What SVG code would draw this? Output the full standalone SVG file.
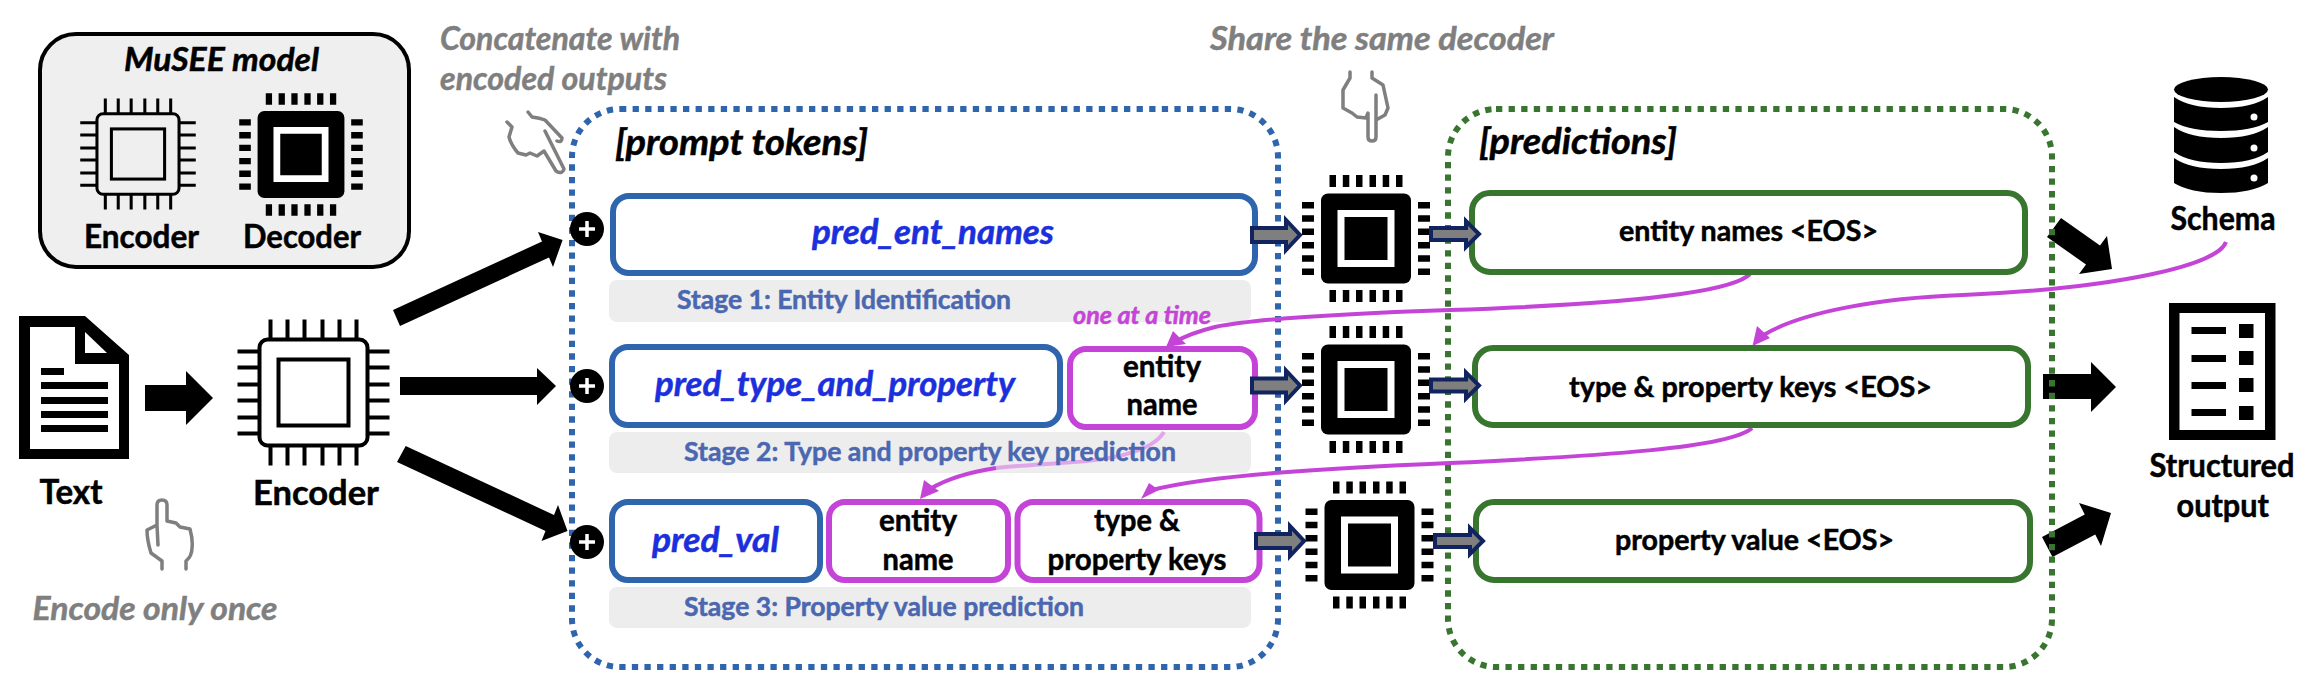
<svg xmlns="http://www.w3.org/2000/svg" xmlns:xlink="http://www.w3.org/1999/xlink" width="2308" height="696" viewBox="0 0 2308 696">
<style>
text{font-family:"Lato","Liberation Sans",sans-serif;font-weight:700;fill:#000;stroke:#000;stroke-width:.5}
.it{font-style:italic}
.note{font-style:italic;font-size:33px;fill:#7f7f7f;stroke:#7f7f7f}
.lbl{font-size:34px}
.cell{font-size:31px}
.out{font-size:28px}
.pred{font-style:italic;font-size:34px;fill:#1b2fdc;stroke:#1b2fdc}
.stage{font-size:27px;fill:#4a67b0;stroke:#4a67b0}
.time{fill:#c544d8;stroke:#c544d8;font-size:24px}
.blue{fill:#fff;stroke:#2e65ad;stroke-width:6}
.mag{fill:#fff;stroke:#c544d8;stroke-width:6}
.grn{fill:#fff;stroke:#38752f;stroke-width:6}
.band{fill:#ededed}
.dotb{fill:none;stroke:#2e65ad;stroke-width:6;stroke-dasharray:6.3 6.3}
.dotg{fill:none;stroke:#38752f;stroke-width:6;stroke-dasharray:6.3 6.3}
.curve{fill:none;stroke:#c544d8;stroke-width:4}
.light{fill:none;stroke:#e0a6e9;stroke-width:4}
.head{fill:#c544d8}
.hand{fill:none;stroke:#7f7f7f;stroke-width:3.5;stroke-linejoin:round;stroke-linecap:round}
.ga{fill:#7f7f7f;stroke:#12245f;stroke-width:4}
</style>
<defs>
<g id="dec">
<rect x="-45" y="-45" width="90" height="90" rx="7"/>
<rect x="-28.500" y="-28.500" width="57" height="57" fill="#fff"/>
<rect x="-21.500" y="-21.500" width="43" height="43"/>
<path d="M-36.500-63.500h6.500v12h-6.500zM-23.200-63.500h6.500v12h-6.500zM-10-63.500h6.500v12h-6.500zM3.500-63.500h6.500v12h-6.500zM16.700-63.500h6.500v12h-6.500zM30-63.500h6.500v12h-6.500zM-36.500 51.500h6.500v12h-6.500zM-23.200 51.500h6.500v12h-6.500zM-10 51.500h6.500v12h-6.500zM3.500 51.500h6.500v12h-6.500zM16.700 51.500h6.500v12h-6.500zM30 51.500h6.500v12h-6.500z"/>
<path d="M-64-36.500h12v6.500h-12zM-64-23.200h12v6.500h-12zM-64-10h12v6.500h-12zM-64 3.500h12v6.500h-12zM-64 16.700h12v6.500h-12zM-64 30h12v6.500h-12zM52-36.500h12v6.500h-12zM52-23.200h12v6.500h-12zM52-10h12v6.500h-12zM52 3.500h12v6.500h-12zM52 16.700h12v6.500h-12zM52 30h12v6.500h-12z"/>
</g>
<g id="enc" fill="none" stroke="#000" stroke-width="4">
<rect x="-54" y="-53" width="108" height="106" rx="8"/>
<rect x="-35" y="-33" width="70" height="66"/>
<path d="M-43-73v20M-26-73v20M-9-73v20M9-73v20M26-73v20M43-73v20M-43 53v20M-26 53v20M-9 53v20M9 53v20M26 53v20M43 53v20M-76-41h22M-76-25h22M-76-8h22M-76 8h22M-76 25h22M-76 41h22M54-41h22M54-25h22M54-8h22M54 8h22M54 25h22M54 41h22"/>
</g>
<polygon id="ga1" class="ga" points="2,-7 36,-7 36,-15 50,0 36,15 36,7 2,7"/>
<polygon id="ga2" class="ga" points="2,-6 37,-6 37,-13 50,0 37,13 37,6 2,6"/>
<g id="plus"><circle r="17"/><path d="M-8 0H8M0-8V8" stroke="#fff" stroke-width="3.500"/></g>
</defs>

<g id="model-legend">
<rect x="40" y="34" width="369" height="233" rx="36" fill="#efefef" stroke="#000" stroke-width="4"/>
<text class="it" x="124" y="71" font-size="33" textLength="195" lengthAdjust="spacingAndGlyphs">MuSEE model</text>
<use xlink:href="#enc" href="#enc" transform="translate(138 154) scale(.76)"/>
<use xlink:href="#dec" href="#dec" transform="translate(301 154.500) scale(.965)"/>
<text x="84" y="248" font-size="32" textLength="115" lengthAdjust="spacingAndGlyphs">Encoder</text>
<text x="243" y="248" font-size="32" textLength="118" lengthAdjust="spacingAndGlyphs">Decoder</text>
</g>

<g id="text-doc">
<path fill-rule="evenodd" d="M19 316H85L129 355V459H19ZM30 327V449H119V364H75V327Z"/>
<path d="M85 332L107 353H85Z" fill="#fff"/>
<path d="M41 368h23v7h-23zM41 382h67v7h-67zM41 397h67v7h-67zM41 411h67v7h-67zM41 425h67v7h-67z"/>
<text class="lbl" x="39.500" y="504" textLength="63" lengthAdjust="spacingAndGlyphs">Text</text>
</g>

<g id="encoder-main">
<use xlink:href="#enc" href="#enc"  transform="translate(313.500 392.500)"/>
<text class="lbl" x="253" y="505" textLength="126" lengthAdjust="spacingAndGlyphs">Encoder</text>
</g>

<g id="note-encode">
<path class="hand" d="M162 569V561L151 553Q147 540 147 530L157 525V505Q157 500 162 500Q167 500 167 505V521L176 523L180 527L190 529Q193 540 192 548Q192 556 186 561V569M157 525L158 545"/>
<text class="note" x="32.500" y="620" textLength="245" lengthAdjust="spacingAndGlyphs">Encode only once</text>
</g>

<g id="note-concat">
<text class="note" x="440" y="50" textLength="240" lengthAdjust="spacingAndGlyphs">Concatenate with</text>
<text class="note" x="440" y="90" textLength="227" lengthAdjust="spacingAndGlyphs">encoded outputs</text>
<path class="hand" d="M507 122L512 127L509 137Q511 145 518 153L526 155L530 153L537 156L544 151L556 171Q562 175 564 169L545 131M528 112L532 117Q540 118 545 120L562 138Q562 143 557 141"/>
</g>

<g id="note-share">
<text class="note" x="1210" y="50" textLength="344" lengthAdjust="spacingAndGlyphs">Share the same decoder</text>
<path class="hand" d="M1350 72V78L1343 90V108L1352 113L1357 117L1366 118L1368 113V137Q1368 141 1372 141Q1376 141 1376 137V120L1385 115L1388 108L1383 85L1372 78V72M1376 95V120"/>
</g>

<g id="connectors">
<polygon points="393,310 542,241.500 538,232 562.600,240 553,267 549,257.500 400,326"/>
<polygon points="400,377 537,377 537,368 556,386 537,405 537,395 400,395"/>
<polygon points="405.700,446 554,515 558,505 567.500,531 541.500,541 545.500,531 397,462"/>
<polygon points="145,385 186,385 186,371 213,398 186,425 186,411 145,411"/>
<polygon points="2061,218 2100,245.500 2107,236 2112,269 2079,274 2086,264.500 2047,237"/>
<polygon points="2043,374 2091,374 2091,362 2116,387 2091,412 2091,399 2043,399"/>
<polygon points="2042,537 2084.750,514.500 2079,503 2111,513 2101,546 2095.250,534.500 2052.500,557"/>
</g>

<g id="prompt-container">
<rect class="dotb" x="572" y="109" width="706" height="558" rx="48"/>
<text class="it" x="615" y="155" font-size="36" textLength="253" lengthAdjust="spacingAndGlyphs">[prompt tokens]</text>
</g>
<g id="predictions-container">
<rect class="dotg" x="1448" y="109" width="604" height="558" rx="48"/>
<text class="it" x="1479" y="154" font-size="36" textLength="198" lengthAdjust="spacingAndGlyphs">[predictions]</text>
</g>

<g id="stage-bands">
<rect class="band" x="609" y="280" width="642" height="42" rx="8"/>
<rect class="band" x="609" y="432" width="642" height="41" rx="8"/>
<rect class="band" x="609" y="587" width="642" height="41" rx="8"/>
</g>

<g id="curves">
<path class="curve" d="M1750 274C1730 295 1600 305 1450 310C1330 314 1250 320 1215 327C1195 332 1185 336 1175 342"/>
<polygon class="head" points="1166,347 1173,331 1186,344"/>
<path class="curve" d="M2226 242C2218 265 2120 288 1963 295C1880 298 1800 312 1762 336"/>
<polygon class="head" points="1752.500,346 1757,326 1770,338"/>
<path class="curve" d="M1752 428C1730 448 1600 456 1450 463C1330 468 1210 475 1152 490"/>
<polygon class="head" points="1141,499 1149,483 1159,490"/>
<path class="light" d="M1164 432C1150 455 1100 461 1060 463C1030 465 1012 466 996 468"/>
<path class="curve" d="M996 468C970 472 945 480 930 489"/>
<polygon class="head" points="920,499 924,480 939,491"/>
</g>

<g id="stage-1">
<use xlink:href="#plus" href="#plus" x="587" y="229"/>
<rect class="blue" x="613" y="196" width="642" height="77" rx="16"/>
<text class="pred" x="812" y="244" textLength="242" lengthAdjust="spacingAndGlyphs">pred_ent_names</text>
<text class="stage" x="677" y="309" textLength="334" lengthAdjust="spacingAndGlyphs">Stage 1: Entity Identification</text>
<text class="it time" x="1073" y="324" textLength="138" lengthAdjust="spacingAndGlyphs">one at a time</text>
</g>
<g id="stage-2">
<use xlink:href="#plus" href="#plus" x="587" y="386"/>
<rect class="blue" x="612" y="347" width="448" height="78" rx="16"/>
<text class="pred" x="655" y="396" textLength="360" lengthAdjust="spacingAndGlyphs">pred_type_and_property</text>
<rect class="mag" x="1070" y="349" width="185" height="78" rx="16"/>
<text class="cell" x="1123" y="377" textLength="78" lengthAdjust="spacingAndGlyphs">entity</text>
<text class="cell" x="1126.500" y="415" textLength="71" lengthAdjust="spacingAndGlyphs">name</text>
<text class="stage" x="684" y="461" textLength="492" lengthAdjust="spacingAndGlyphs">Stage 2: Type and property key prediction</text>
</g>
<g id="stage-3">
<use xlink:href="#plus" href="#plus" x="587" y="542"/>
<rect class="blue" x="612" y="502" width="208" height="78" rx="16"/>
<text class="pred" x="652" y="552" textLength="127" lengthAdjust="spacingAndGlyphs">pred_val</text>
<rect class="mag" x="829" y="502" width="179" height="78" rx="16"/>
<text class="cell" x="879" y="531" textLength="78" lengthAdjust="spacingAndGlyphs">entity</text>
<text class="cell" x="882.500" y="570" textLength="71" lengthAdjust="spacingAndGlyphs">name</text>
<rect class="mag" x="1017.500" y="502" width="242" height="78" rx="16"/>
<text class="cell" x="1094" y="531" textLength="86" lengthAdjust="spacingAndGlyphs">type &amp;</text>
<text class="cell" x="1047.500" y="570" textLength="179" lengthAdjust="spacingAndGlyphs">property keys</text>
<text class="stage" x="684" y="616" textLength="400" lengthAdjust="spacingAndGlyphs">Stage 3: Property value prediction</text>
</g>

<g id="decoder-1"><use xlink:href="#dec" href="#dec" transform="translate(1366 238.500)"/></g>
<g id="decoder-2"><use xlink:href="#dec" href="#dec" transform="translate(1366 389.500)"/></g>
<g id="decoder-3"><use xlink:href="#dec" href="#dec" transform="translate(1369.500 545)"/></g>

<g id="output-1">
<rect class="grn" x="1472" y="193" width="553" height="79" rx="18"/>
<text class="out" x="1619" y="241" textLength="259" lengthAdjust="spacingAndGlyphs">entity names &lt;EOS&gt;</text>
</g>
<g id="output-2">
<rect class="grn" x="1475" y="348" width="553" height="77" rx="18"/>
<text class="out" x="1569" y="397" textLength="363" lengthAdjust="spacingAndGlyphs">type &amp; property keys &lt;EOS&gt;</text>
</g>
<g id="output-3">
<rect class="grn" x="1476" y="502" width="554" height="78" rx="18"/>
<text class="out" x="1615" y="550" textLength="279" lengthAdjust="spacingAndGlyphs">property value &lt;EOS&gt;</text>
</g>

<g id="gray-arrows">
<use xlink:href="#ga1" href="#ga1" x="1250" y="235"/>
<use xlink:href="#ga2" href="#ga2" x="1429" y="234"/>
<use xlink:href="#ga1" href="#ga1" x="1250" y="385.500"/>
<use xlink:href="#ga2" href="#ga2" x="1429" y="385.500"/>
<use xlink:href="#ga1" href="#ga1" x="1254" y="541"/>
<use xlink:href="#ga2" href="#ga2" x="1433" y="541"/>
</g>

<g id="schema">
<ellipse cx="2221" cy="89.500" rx="47" ry="12.500"/>
<path d="M2174 97Q2190 108 2221 108Q2252 108 2268 97V122Q2252 131 2221 131Q2190 131 2174 122Z"/>
<path d="M2174 127Q2190 138 2221 138Q2252 138 2268 127V152Q2252 163 2221 163Q2190 163 2174 152Z"/>
<path d="M2174 158Q2190 169 2221 169Q2252 169 2268 158V183Q2252 193 2221 193Q2190 193 2174 183Z"/>
<circle cx="2254" cy="117" r="3.500" fill="#fff"/><circle cx="2254" cy="148" r="3.500" fill="#fff"/><circle cx="2254" cy="178" r="3.500" fill="#fff"/>
<text x="2170.500" y="230" font-size="32" textLength="105" lengthAdjust="spacingAndGlyphs">Schema</text>
</g>

<g id="structured-output">
<path fill-rule="evenodd" d="M2169 303H2275.500V440H2169ZM2179.500 313V430H2265V313Z"/>
<path d="M2191.500 327h34.500v7h-34.500zM2191.500 355h34.500v7h-34.500zM2191.500 382h34.500v7h-34.500zM2191.500 409h34.500v7h-34.500zM2239 324h14.500v14h-14.500zM2239 351h14.500v14h-14.500zM2239 378h14.500v14h-14.500zM2239 406h14.500v14h-14.500z"/>
<text x="2149.500" y="477" font-size="33" textLength="145" lengthAdjust="spacingAndGlyphs">Structured</text>
<text x="2176.500" y="517" font-size="33" textLength="92.500" lengthAdjust="spacingAndGlyphs">output</text>
</g>
</svg>
